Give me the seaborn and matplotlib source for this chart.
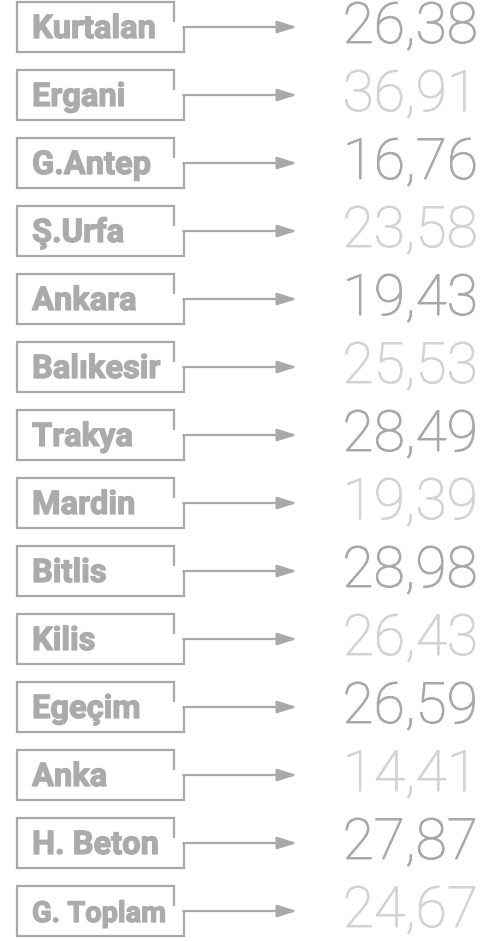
"""
Flow-style list: each region name in an outlined box, an arrow, and its value.
"""

import numpy as np
import matplotlib.pyplot as plt
import matplotlib.patheffects as pe
import seaborn as sns

# data
regions = ['Kurtalan', 'Ergani', 'G.Antep', 'Ş.Urfa', 'Ankara', 'Balıkesir', 'Trakya',
           'Mardin', 'Bitlis', 'Kilis', 'Egeçim', 'Anka', 'H. Beton', 'G. Toplam']
values = [26.38, 36.91, 16.76, 23.58, 19.43, 25.53, 28.49,
          19.39, 28.98, 26.43, 26.59, 14.41, 27.87, 24.67]

line_color = '#a9a9a9'
label_color = '#ababab'
dark_num = '#a8a8a8'
light_num = '#d3d3d3'

sns.set_theme(style="white")
plt.rcParams['font.family'] = ['Roboto', 'DejaVu Sans']

fig = plt.figure(figsize=(4.98, 9.41), dpi=100)
ax = fig.add_axes([0, 0, 1, 1])

# one row = 68 px, x in pixels
pitch = 68.0
ax.set_xlim(0, 498)
ax.set_ylim((941 - 27) / pitch, -27 / pitch)
ax.axis('off')

rows = np.arange(len(regions))
px = 1 / pitch  # one pixel in row units
renderer = fig.canvas.get_renderer()

for i in rows:
    top = i - 25 * px
    bot = i + 25 * px
    # open box around the label
    ax.plot([174, 174, 17, 17, 184, 184], [i - 5 * px, top, top, bot, bot, i],
            color=line_color, lw=1.6, solid_joinstyle='miter', solid_capstyle='butt')
    ax.annotate('', xy=(297, i), xytext=(183.2, i),
                arrowprops=dict(arrowstyle='-|>,head_length=0.8,head_width=0.25',
                                mutation_scale=15, color=line_color, lw=1.6,
                                shrinkA=0, shrinkB=0))
    lab = ax.text(32, i + 11 * px, regions[i], fontsize=23.5, fontweight='bold',
                  color=label_color, ha='left', va='baseline',
                  path_effects=[pe.Stroke(linewidth=0.9, foreground=label_color), pe.Normal()])
    # long names are squeezed to stay inside the box
    w = lab.get_window_extent(renderer).width
    if w > 134:
        lab.set_fontsize(23.5 * 134 / w)
    col = dark_num if i % 2 == 0 else light_num
    txt = f"{values[i]:.2f}".replace('.', ',')
    ax.text(478, i + 16 * px, txt, fontsize=41, fontweight='light', color=col,
            ha='right', va='baseline',
            path_effects=[pe.Stroke(linewidth=0.7, foreground=col), pe.Normal()])

plt.savefig('out.png', dpi=100)
